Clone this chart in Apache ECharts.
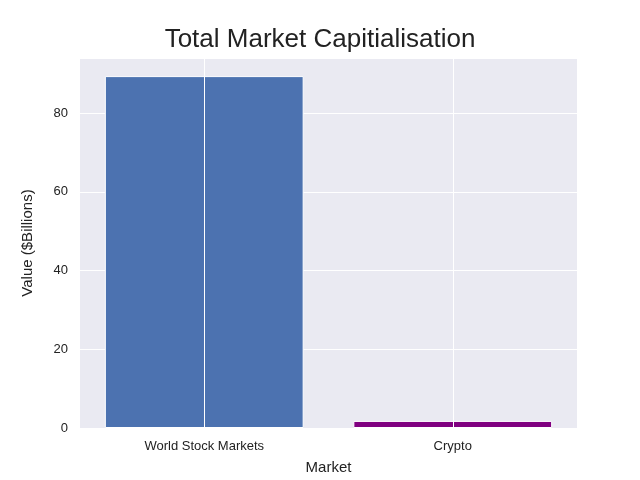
<!DOCTYPE html>
<html><head><meta charset="utf-8">
<script src="https://cdn.jsdelivr.net/npm/echarts@6/dist/echarts.min.js"></script>
<style>html,body{margin:0;padding:0;background:#fff}#c{width:640px;height:480px}</style>
</head><body><div id="c"></div>
<script>
const categories = ['World Stock Markets', 'Crypto'];
const values = [89.4, 1.8];
const barColors = ['#4C72B0', '#800080'];
const yTicks = [0, 20, 40, 60, 80];

const chart = echarts.init(document.getElementById('c'));
const font = 'Liberation Sans, Arial, sans-serif';
chart.setOption({
  backgroundColor: '#fff',
  title: {text: 'Total Market Capitialisation', left: 'center', top: 22,
    textStyle: {fontFamily: font, fontSize: 26, fontWeight: 'normal', color: '#222'}},
  grid: {left: 80, right: 63, top: 58, bottom: 52, show: true, backgroundColor: '#EAEAF2', borderWidth: 0},
  xAxis: {type: 'category', data: categories, name: 'Market', nameLocation: 'middle', nameGap: 32,
    nameTextStyle: {fontFamily: font, fontSize: 15, color: '#222'},
    axisLine: {show: false}, axisTick: {show: false}, splitLine: {show: false},
    axisLabel: {fontFamily: font, fontSize: 13, color: '#222', margin: 12}},
  yAxis: {type: 'value', min: 0, max: 94, interval: 20, name: 'Value ($Billions)', nameLocation: 'middle', nameGap: 45,
    nameTextStyle: {fontFamily: font, fontSize: 15, color: '#222'},
    axisLine: {show: false}, axisTick: {show: false},
    axisLabel: {fontFamily: font, fontSize: 13, color: '#222', margin: 12,
      formatter: v => yTicks.includes(v) ? String(v) : ''},
    splitLine: {lineStyle: {color: '#fff', width: 1}}},
  series: [
    {type: 'line', data: [], z: 1, silent: true,
      markLine: {silent: true, symbol: 'none', label: {show: false},
        lineStyle: {color: '#fff', type: 'solid', width: 1},
        data: categories.map(c => ({xAxis: c}))}},
    {type: 'bar', z: 3, barWidth: '80%', barGap: '-100%',
      data: values.map((v, i) => ({value: v, itemStyle: {color: barColors[i], borderColor: '#fff', borderWidth: 1}}))}
  ]
});
</script></body></html>
